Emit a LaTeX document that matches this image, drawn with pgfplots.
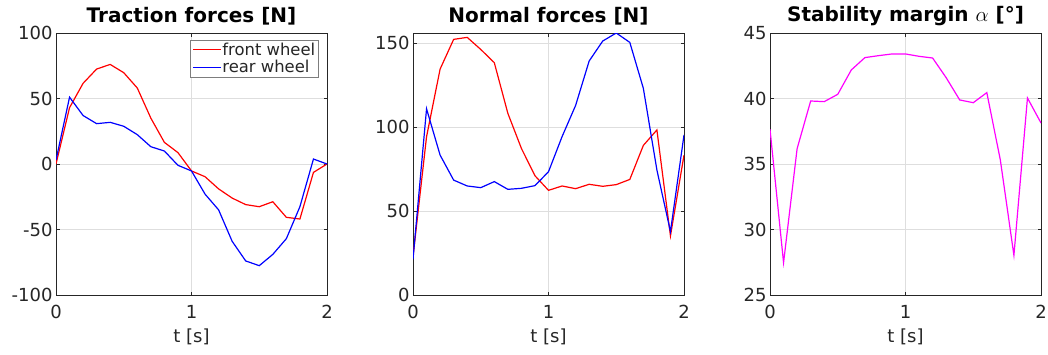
\documentclass[border=0pt]{standalone}
\usepackage{fontspec}
\setmainfont{DejaVu Sans}
\usepackage{pgfplots}
\pgfplotsset{compat=1.18}

\definecolor{axgray}{rgb}{0.15,0.15,0.15}
\definecolor{mred}{rgb}{1,0,0}
\definecolor{mblue}{rgb}{0,0,1}
\definecolor{mmag}{rgb}{1,0,1}

\pgfplotsset{
  mstyle/.style={
    scale only axis, width=271pt, height=262pt,
    xmin=0, xmax=2, xtick={0,1,2},
    axis line style={axgray, line width=0.6pt},
    tick style={axgray, line width=0.6pt},
    major tick length=3.5pt,
    tick align=inside,
    grid=major,
    grid style={black!13, line width=0.6pt},
    ticklabel style={font=\fontsize{18}{18}\selectfont, text=axgray},
    xticklabel style={yshift=-7pt},
    /pgf/number format/assume math mode=true,
    xlabel={t [s]},
    xlabel style={font=\fontsize{18}{18}\selectfont, text=axgray, yshift=-3pt},
    title style={font=\fontsize{20}{20}\selectfont\bfseries, at={(0.5,1)}, anchor=south, yshift=-2pt},
    scaled ticks=false,
  }
}

\begin{document}
\begin{tikzpicture}[x=1pt,y=1pt]
\path[use as bounding box] (0,0) rectangle (1048,354);

\begin{axis}[mstyle, at={(56pt,59pt)}, anchor=south west,
  title={Traction forces [N]},
  ymin=-100, ymax=100, ytick={-100,-50,0,50,100},
  legend style={at={(1,1)}, anchor=north east, xshift=-9pt, yshift=-7pt,
    draw=axgray!60, fill=white, font=\fontsize{16.4}{16.4}\selectfont, text=axgray,
    inner xsep=2pt, inner ysep=2pt, nodes={inner sep=0.6pt}, row sep=2.5pt,
    legend cell align=left},
  legend image post style={line width=1.2pt},
  legend image code/.code={\draw[#1] (0pt,0pt) -- (28pt,0pt);},
]
\addplot[mred, line width=1.2pt] coordinates {
(0,0) (0.1,43) (0.2,61.6) (0.3,72.5) (0.4,76) (0.5,69.7) (0.6,58) (0.7,35) (0.8,16.5) (0.9,8.7)
(1.0,-5.3) (1.1,-9.7) (1.2,-19) (1.3,-26) (1.4,-31) (1.5,-32.6) (1.6,-28.8) (1.7,-40.7) (1.8,-42) (1.9,-6.4) (2.0,0)};
\addlegendentry{front wheel}
\addplot[mblue, line width=1.2pt] coordinates {
(0,3) (0.1,51) (0.2,37) (0.3,30.8) (0.4,31.8) (0.5,28.8) (0.6,22.4) (0.7,13.2) (0.8,9.9) (0.9,-1)
(1.0,-5.3) (1.1,-23) (1.2,-35) (1.3,-59) (1.4,-74) (1.5,-77.6) (1.6,-69) (1.7,-57) (1.8,-32.6) (1.9,3.8) (2.0,0)};
\addlegendentry{rear wheel}
\end{axis}

\begin{axis}[mstyle, at={(413pt,59pt)}, anchor=south west,
  title={Normal forces [N]},
  ymin=0, ymax=156.2, ytick={0,50,100,150},
]
\addplot[mred, line width=1.2pt] coordinates {
(0,22.8) (0.1,94.4) (0.2,134.7) (0.3,152.4) (0.4,153.6) (0.5,146.4) (0.6,138.5) (0.7,108.3) (0.8,87.4) (0.9,71.1)
(1.0,62.4) (1.1,65) (1.2,63.4) (1.3,66) (1.4,64.8) (1.5,65.8) (1.6,68.9) (1.7,89.2) (1.8,98.4) (1.9,35.2) (2.0,83.4)};
\addplot[mblue, line width=1.2pt] coordinates {
(0,21.3) (0.1,111) (0.2,83.4) (0.3,68.5) (0.4,65) (0.5,64) (0.6,67.6) (0.7,63) (0.8,63.6) (0.9,65.2)
(1.0,73.5) (1.1,94.4) (1.2,113) (1.3,139.5) (1.4,151.4) (1.5,156.2) (1.6,150.6) (1.7,123.2) (1.8,74.5) (1.9,37.8) (2.0,95.4)};
\end{axis}

\begin{axis}[mstyle, at={(770pt,59pt)}, anchor=south west,
  title={Stability margin $\alpha$ [°]},
  ymin=25, ymax=45, ytick={25,30,35,40,45},
]
\addplot[mmag, line width=1.2pt] coordinates {
(0,37.65) (0.1,27.47) (0.2,36.17) (0.3,39.81) (0.4,39.76) (0.5,40.32) (0.6,42.18) (0.7,43.12) (0.8,43.27) (0.9,43.4)
(1.0,43.4) (1.1,43.22) (1.2,43.09) (1.3,41.59) (1.4,39.89) (1.5,39.68) (1.6,40.45) (1.7,35.3) (1.8,28.03) (1.9,40.04) (2.0,38.13)};
\end{axis}
\end{tikzpicture}
\end{document}
